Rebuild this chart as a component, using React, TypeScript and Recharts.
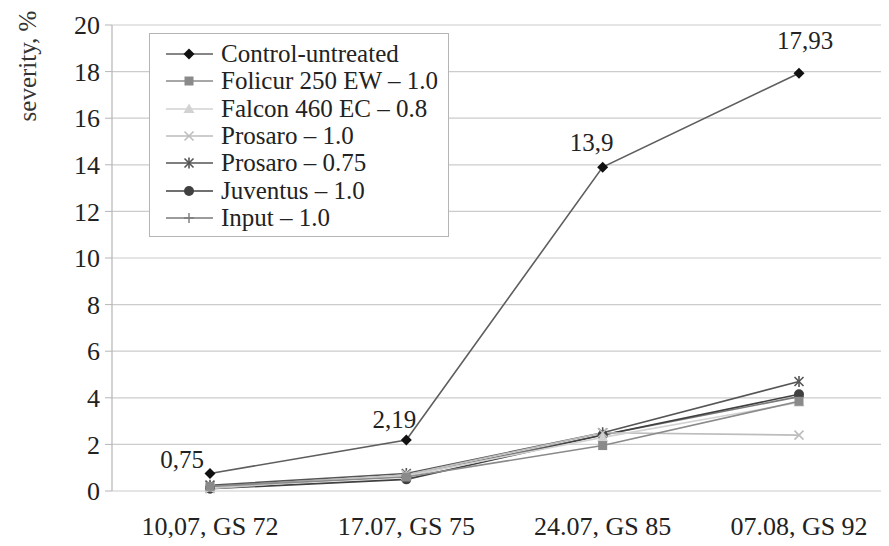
import React from 'react';
import { LineChart, Line, XAxis, YAxis, CartesianGrid, Legend, LabelList } from 'recharts';

const categories = ['10,07, GS 72', '17.07, GS 75', '24.07, GS 85', '07.08, GS 92'];
const controlUntreated = [0.75, 2.19, 13.9, 17.93];
const folicur = [0.2, 0.6, 1.95, 3.85];
const falcon = [0.15, 0.65, 2.3, 3.8];
const prosaro10 = [0.1, 0.7, 2.5, 2.4];
const prosaro075 = [0.25, 0.75, 2.5, 4.7];
const juventus = [0.1, 0.5, 2.4, 4.15];
const input = [0.2, 0.65, 2.4, 4.05];
const controlLabels = ['0,75', '2,19', '13,9', '17,93'];
const yTicks = [0, 2, 4, 6, 8, 10, 12, 14, 16, 18, 20];

const FONT = "'Liberation Serif', 'Times New Roman', serif";

const data = categories.map((c, i) => ({
  cat: c,
  control: controlUntreated[i],
  folicur: folicur[i],
  falcon: falcon[i],
  prosaro10: prosaro10[i],
  prosaro075: prosaro075[i],
  juventus: juventus[i],
  input: input[i],
}));

type ShapeKind = 'diamond' | 'square' | 'triangle' | 'x' | 'star' | 'circle' | 'plus';

const series: { key: string; name: string; line: string; mark: string; shape: ShapeKind }[] = [
  { key: 'control', name: 'Control-untreated', line: '#5e5e5e', mark: '#111111', shape: 'diamond' },
  { key: 'folicur', name: 'Folicur 250 EW – 1.0', line: '#8a8a8a', mark: '#8a8a8a', shape: 'square' },
  { key: 'falcon', name: 'Falcon 460 EC – 0.8', line: '#d2d2d2', mark: '#d2d2d2', shape: 'triangle' },
  { key: 'prosaro10', name: 'Prosaro – 1.0', line: '#bdbdbd', mark: '#bdbdbd', shape: 'x' },
  { key: 'prosaro075', name: 'Prosaro – 0.75', line: '#555555', mark: '#555555', shape: 'star' },
  { key: 'juventus', name: 'Juventus – 1.0', line: '#404040', mark: '#404040', shape: 'circle' },
  { key: 'input', name: 'Input – 1.0', line: '#7a7a7a', mark: '#7a7a7a', shape: 'plus' },
];

function Marker({ shape, cx, cy, color }: { shape: ShapeKind; cx: number; cy: number; color: string }) {
  const s = 5.5;
  switch (shape) {
    case 'diamond':
      return <polygon points={`${cx},${cy - s} ${cx + s},${cy} ${cx},${cy + s} ${cx - s},${cy}`} fill={color} />;
    case 'square':
      return <rect x={cx - 4.5} y={cy - 4.5} width={9} height={9} fill={color} />;
    case 'triangle':
      return <polygon points={`${cx},${cy - s} ${cx + s},${cy + 4} ${cx - s},${cy + 4}`} fill={color} />;
    case 'x':
      return (
        <g stroke={color} strokeWidth={1.6}>
          <line x1={cx - 4.5} y1={cy - 4.5} x2={cx + 4.5} y2={cy + 4.5} />
          <line x1={cx - 4.5} y1={cy + 4.5} x2={cx + 4.5} y2={cy - 4.5} />
        </g>
      );
    case 'star':
      return (
        <g stroke={color} strokeWidth={1.6}>
          <line x1={cx - 4.5} y1={cy - 4.5} x2={cx + 4.5} y2={cy + 4.5} />
          <line x1={cx - 4.5} y1={cy + 4.5} x2={cx + 4.5} y2={cy - 4.5} />
          <line x1={cx} y1={cy - 5.5} x2={cx} y2={cy + 5.5} />
        </g>
      );
    case 'circle':
      return <circle cx={cx} cy={cy} r={5} fill={color} />;
    case 'plus':
      return (
        <g stroke={color} strokeWidth={1.4}>
          <line x1={cx} y1={cy - 5} x2={cx} y2={cy + 5} />
          <line x1={cx - 5} y1={cy} x2={cx + 5} y2={cy} />
        </g>
      );
  }
  return null;
}

const makeDot = (shape: ShapeKind, color: string) => (props: any) => {
  const { cx, cy, index } = props;
  if (cx == null || cy == null) return <g key={`d-${index}`} />;
  return (
    <g key={`d-${shape}-${index}`}>
      <Marker shape={shape} cx={cx} cy={cy} color={color} />
    </g>
  );
};

const labelDx = [-28, -12, -11, 6];
const labelDy = [-14, -20, -25, -33];

const ControlLabel = (props: any) => {
  const { x, y, index } = props;
  return (
    <text
      x={x + labelDx[index]}
      y={y + labelDy[index]}
      textAnchor="middle"
      dominantBaseline="central"
      fontSize={25}
      fontFamily={FONT}
      style={{ fontFamily: FONT }}
      fill="#222"
    >
      {controlLabels[index]}
    </text>
  );
};

const LegendContent = () => (
  <div
    style={{
      width: 298,
      height: 202,
      border: '1px solid #b5b5b5',
      background: '#fff',
      boxSizing: 'content-box',
      fontFamily: FONT,
      fontSize: 25,
      color: '#222',
      position: 'relative',
    }}
  >
    {series.map((s, i) => (
      <div
        key={s.key}
        style={{ position: 'absolute', left: 14, top: 6 + i * 27.3, height: 28, display: 'flex', alignItems: 'center', whiteSpace: 'nowrap' }}
      >
        <svg width={52} height={16} style={{ display: 'block' }}>
          <line x1={2} y1={8} x2={49} y2={8} stroke={s.line} strokeWidth={1.5} />
          <Marker shape={s.shape} cx={25} cy={8} color={s.mark} />
        </svg>
        <span style={{ marginLeft: 5, lineHeight: '28px', fontFamily: FONT }}>{s.name}</span>
      </div>
    ))}
  </div>
);

const YLabel = (props: any) => {
  const { viewBox } = props;
  const x = viewBox.x + 27;
  const y = viewBox.y + 41;
  return (
    <text
      x={x}
      y={y}
      transform={`rotate(-90, ${x}, ${y})`}
      textAnchor="middle"
      dominantBaseline="central"
      fontSize={25}
      fontFamily={FONT}
      style={{ fontFamily: FONT }}
      fill="#333"
    >
      severity, %
    </text>
  );
};

export default function App() {
  const tickStyle = { fontSize: 26, fontFamily: FONT, fill: '#222', style: { fontFamily: FONT } };
  return (
    <div
      style={{
        margin: '-8px',
        width: 889,
        height: 546,
        overflow: 'hidden',
        position: 'relative',
        background: '#fff',
        fontFamily: FONT,
      }}
    >
      <LineChart
        width={905}
        height={546}
        data={data}
        margin={{ top: 25, right: 8, bottom: 0, left: 0 }}
        style={{ fontFamily: FONT }}
      >
        <CartesianGrid vertical={false} stroke="#cccccc" strokeWidth={1.2} />
        <XAxis
          xAxisId="ticks"
          type="number"
          dataKey={() => 0}
          domain={[0, 4]}
          ticks={[0, 1, 2, 3, 4]}
          height={0}
          tick={false}
          tickSize={7}
          tickLine={{ stroke: '#b5b5b5' }}
          axisLine={{ stroke: '#b5b5b5', strokeWidth: 1.2 }}
          allowDataOverflow
        />
        <XAxis
          dataKey="cat"
          height={55}
          tickLine={false}
          axisLine={false}
          tick={tickStyle}
          tickMargin={20}
          interval={0}
          padding={{ left: 98, right: 98 }}
        />
        <YAxis
          domain={[0, 20]}
          ticks={yTicks}
          width={112}
          tick={tickStyle}
          tickSize={7}
          tickMargin={5}
          tickLine={{ stroke: '#b5b5b5' }}
          axisLine={{ stroke: '#b5b5b5', strokeWidth: 1.2 }}
          interval={0}
          label={<YLabel />}
        />
        <Legend
          layout="vertical"
          align="center"
          verticalAlign="middle"
          content={<LegendContent />}
          wrapperStyle={{ position: 'absolute', left: 149, top: 33, width: 300, height: 204 }}
        />
        {series
          .slice()
          .reverse()
          .map((s) => (
            <Line
              key={s.key}
              dataKey={s.key}
              name={s.name}
              stroke={s.line}
              strokeWidth={1.6}
              dot={makeDot(s.shape, s.mark)}
              activeDot={false}
              isAnimationActive={false}
            >
              {s.key === 'control' ? <LabelList dataKey="control" content={<ControlLabel />} /> : null}
            </Line>
          ))}
      </LineChart>
    </div>
  );
}
